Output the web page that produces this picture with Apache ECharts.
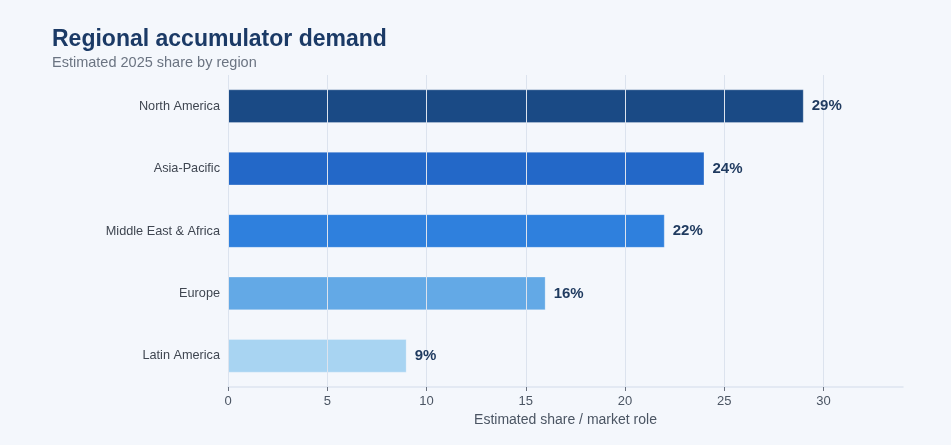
<!DOCTYPE html>
<html>
<head>
<meta charset="utf-8">
<script src="https://cdn.jsdelivr.net/npm/echarts@6/dist/echarts.min.js"></script>
<style>
html,body{margin:0;padding:0;background:#f4f7fc;}
#chart{width:951px;height:445px;}
</style>
</head>
<body>
<div id="chart"></div>
<script>
const categories = ["North America", "Asia-Pacific", "Middle East & Africa", "Europe", "Latin America"];
const values = [29, 24, 22, 16, 9];
const barColors = ["#1a4a85", "#2368c8", "#2f80dd", "#63a9e6", "#a8d4f2"];
const xTicks = [0, 5, 10, 15, 20, 25, 30];

const FONT = 'Liberation Sans, Arial, sans-serif';
const chart = echarts.init(document.getElementById('chart'));
chart.setOption({
  backgroundColor: '#f4f7fc',
  title: {
    text: 'Regional accumulator demand',
    subtext: 'Estimated 2025 share by region',
    left: 47, top: 23,
    itemGap: 4,
    textStyle: { fontFamily: FONT, fontSize: 23, fontWeight: 'bold', color: '#1b3a66' },
    subtextStyle: { fontFamily: FONT, fontSize: 14.5, color: '#6b7482' }
  },
  grid: { left: 228, right: 48, top: 75, bottom: 58, containLabel: false },
  xAxis: {
    type: 'value', min: 0, max: 34, interval: 5, z: 3,
    name: 'Estimated share / market role',
    nameLocation: 'middle', nameGap: 23,
    nameTextStyle: { fontFamily: FONT, fontSize: 14, color: '#4b5563' },
    axisLine: { show: true, lineStyle: { color: '#dde5ef', width: 1.5 } },
    axisTick: { show: true, length: 4, customValues: xTicks, lineStyle: { color: '#6b7280' } },
    axisLabel: { fontFamily: FONT, fontSize: 13, color: '#4b5563', margin: 8, customValues: xTicks },
    splitLine: { show: true, lineStyle: { color: '#dce3ee', width: 1 } }
  },
  yAxis: {
    type: 'category', data: categories, inverse: true,
    axisLine: { show: false }, axisTick: { show: false },
    axisLabel: { fontFamily: FONT, fontSize: 12.7, color: '#3f4651', margin: 8 }
  },
  series: [{
    type: 'bar', z: 2,
    data: values.map((v, i) => ({ value: v, itemStyle: { color: barColors[i] } })),
    barWidth: '54%',
    itemStyle: { borderColor: 'rgba(255,255,255,0.25)', borderWidth: 1 },
    label: { show: false }
  }, {
    type: 'bar', z: 5, barGap: '-100%',
    data: values,
    barWidth: '54%',
    itemStyle: { color: 'rgba(0,0,0,0)' },
    silent: true,
    label: {
      show: true, position: 'right', distance: 8,
      formatter: p => p.value + '%',
      fontFamily: FONT, fontSize: 15, fontWeight: 'bold', color: '#1f3a5f'
    }
  }]
});
</script>
</body>
</html>
